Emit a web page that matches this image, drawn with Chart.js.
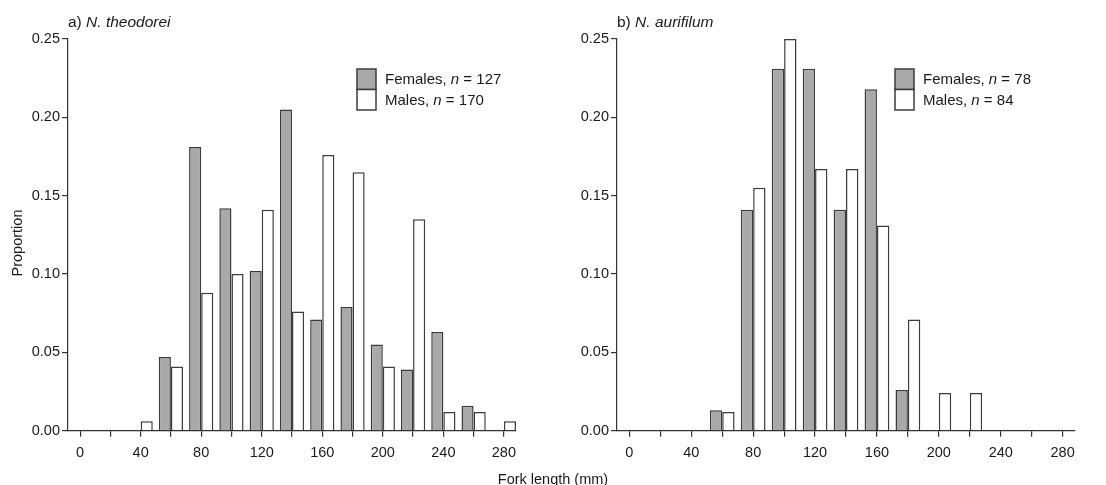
<!DOCTYPE html>
<html>
<head>
<meta charset="utf-8">
<script src="https://cdn.jsdelivr.net/npm/chart.js@4.4.1/dist/chart.umd.min.js"></script>
<style>
  body { margin: 0; background: #fff; width: 1106px; height: 485px; position: relative; overflow: hidden;
         font-family: "Liberation Sans", Arial, sans-serif; }
  .panel { position: absolute; top: 0; width: 553px; height: 485px; }
  #xlab { position: absolute; left: 0; width: 1106px; top: 471px; text-align: center;
          font-size: 14.5px; color: #1a1a1a; }
</style>
</head>
<body>
<div class="panel" style="left:0"><canvas id="chartA"></canvas></div>
<div class="panel" style="left:553px"><canvas id="chartB"></canvas></div>
<div id="xlab">Fork length (mm)</div>
<script>
// fork length bins (mm)
const bins = [40, 60, 80, 100, 120, 140, 160, 180, 200, 220, 240, 260, 280];
const xTicks = [0, 20, 40, 60, 80, 100, 120, 140, 160, 180, 200, 220, 240, 260, 280];
const yTicks = [0, 0.05, 0.10, 0.15, 0.20, 0.25];

// a) N. theodorei
const theoFemales = [0, 0.047, 0.181, 0.142, 0.102, 0.205, 0.071, 0.079, 0.055, 0.039, 0.063, 0.016, 0];
const theoMales   = [0.006, 0.041, 0.088, 0.100, 0.141, 0.076, 0.176, 0.165, 0.041, 0.135, 0.012, 0.012, 0.006];
const theoN = [127, 170];

// b) N. aurifilum
const auriFemales = [0, 0.013, 0.141, 0.231, 0.231, 0.141, 0.218, 0.026, 0, 0, 0, 0, 0];
const auriMales   = [0, 0.012, 0.155, 0.250, 0.167, 0.167, 0.131, 0.071, 0.024, 0.024, 0, 0, 0];
const auriN = [78, 84];

const femaleFill = '#a9a9a9';
const maleFill = '#ffffff';
const edge = '#3c3c3c';
const axisCol = '#333333';
const textCol = '#1a1a1a';
const FONT = '"Liberation Sans", Arial, sans-serif';

// draw a line of text made of regular/italic runs
function drawRuns(ctx, x, y, runs, size) {
    runs.forEach(([txt, ital]) => {
        ctx.font = (ital ? 'italic ' : '') + size + 'px ' + FONT;
        ctx.fillText(txt, x, y);
        x += ctx.measureText(txt).width;
    });
}

const panelText = {
    id: 'panelText',
    afterDraw(chart, args, o) {
        const ctx = chart.ctx;
        ctx.save();
        ctx.fillStyle = textCol;
        ctx.textAlign = 'left';
        ctx.textBaseline = 'alphabetic';
        drawRuns(ctx, o.titleX, 27, [[o.tag + ' ', false], [o.species, true]], 15.5);

        // legend
        const boxes = [[femaleFill, 'Females, ', o.n[0]], [maleFill, 'Males, ', o.n[1]]];
        boxes.forEach(([fill, lab, n], i) => {
            const y = 69 + i * 20.5;
            ctx.fillStyle = fill;
            ctx.fillRect(o.legX, y, 19, 20.5);
            ctx.strokeStyle = edge;
            ctx.lineWidth = 1.5;
            ctx.strokeRect(o.legX, y, 19, 20.5);
            ctx.fillStyle = textCol;
            drawRuns(ctx, o.legX + 28, y + 15, [[lab, false], ['n', true], [' = ' + n, false]], 15);
        });

        if (o.ylab) {
            ctx.translate(22, 243);
            ctx.rotate(-Math.PI / 2);
            ctx.textAlign = 'center';
            ctx.font = '14.5px ' + FONT;
            ctx.fillText(o.ylab, 0, 0);
        }
        ctx.restore();
    }
};

function makeChart(id, females, males, n, tag, species, yWidth, padRight, legX, ylab) {
    const ctx = document.getElementById(id).getContext('2d');
    return new Chart(ctx, {
        type: 'bar',
        data: {
            datasets: [{
                label: 'Females',
                data: bins.map((b, i) => ({ x: b, y: females[i] })),
                backgroundColor: femaleFill,
                borderColor: edge,
                borderWidth: 1.5
            }, {
                label: 'Males',
                data: bins.map((b, i) => ({ x: b, y: males[i] })),
                backgroundColor: maleFill,
                borderColor: edge,
                borderWidth: 1.5
            }]
        },
        options: {
            responsive: true,
            maintainAspectRatio: false,
            animation: false,
            datasets: { bar: { categoryPercentage: 0.8, barPercentage: 1.0 } },
            layout: { padding: { left: 0, right: padRight, top: 39, bottom: 0 } },
            plugins: {
                legend: { display: false },
                tooltip: { enabled: false },
                panelText: { tag: tag, species: species, n: n, titleX: yWidth, legX: legX, ylab: ylab }
            },
            scales: {
                x: {
                    type: 'linear',
                    min: -8,
                    max: 288,
                    offset: false,
                    afterBuildTicks: s => { s.ticks = xTicks.map(v => ({ value: v })); },
                    afterFit: s => { s.height = 54.3; },
                    grid: { offset: false, drawOnChartArea: false, drawTicks: true, tickLength: 6, color: axisCol, lineWidth: 1.2 },
                    border: { display: true, color: axisCol, width: 1.2 },
                    ticks: {
                        autoSkip: false,
                        maxRotation: 0,
                        padding: 8,
                        color: textCol,
                        font: { family: FONT, size: 14.5 },
                        callback: v => (v % 40 === 0 ? String(v) : '')
                    }
                },
                y: {
                    min: 0,
                    max: 0.25,
                    afterBuildTicks: s => { s.ticks = yTicks.map(v => ({ value: v })); },
                    afterFit: s => { s.width = yWidth; },
                    grid: { drawOnChartArea: false, drawTicks: true, tickLength: 6, color: axisCol, lineWidth: 1.2 },
                    border: { display: true, color: axisCol, width: 1.2 },
                    ticks: {
                        padding: 2,
                        color: textCol,
                        font: { family: FONT, size: 14.5 },
                        callback: v => Number(v).toFixed(2)
                    }
                }
            }
        },
        plugins: [panelText]
    });
}

makeChart('chartA', theoFemales, theoMales, theoN, 'a)', 'N. theodorei', 68, 37, 357, 'Proportion');
makeChart('chartB', auriFemales, auriMales, auriN, 'b)', 'N. aurifilum', 64, 31, 342, null);
</script>
</body>
</html>
